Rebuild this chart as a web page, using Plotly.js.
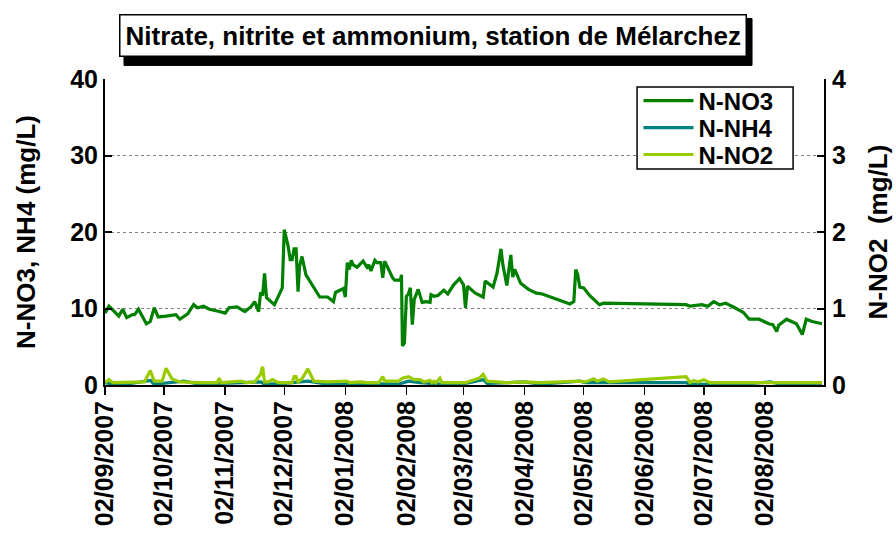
<!DOCTYPE html>
<html>
<head>
<meta charset="utf-8">
<script src="https://cdn.plot.ly/plotly-3.0.1.min.js"></script>
<style>html,body{margin:0;padding:0;background:#fff;}#chart{width:896px;height:535px;}</style>
</head>
<body>
<div id="chart"></div>
<script>
const no3Dates = ['2007-09-02','2007-09-04','2007-09-09','2007-09-11','2007-09-13','2007-09-16','2007-09-17','2007-09-19','2007-09-23','2007-09-25','2007-09-27','2007-09-29',
'2007-10-03','2007-10-08','2007-10-10','2007-10-14','2007-10-17','2007-10-19','2007-10-22','2007-10-25','2007-10-30',
'2007-11-02','2007-11-04','2007-11-08','2007-11-12','2007-11-15','2007-11-17','2007-11-19','2007-11-20','2007-11-21','2007-11-22','2007-11-23','2007-11-27',
'2007-12-01','2007-12-02','2007-12-04','2007-12-05','2007-12-06','2007-12-07','2007-12-08','2007-12-09','2007-12-09 18:00','2007-12-11','2007-12-13','2007-12-20','2007-12-24','2007-12-27','2007-12-28',
'2008-01-01','2008-01-02','2008-01-03','2008-01-04','2008-01-05','2008-01-06','2008-01-08','2008-01-11','2008-01-13','2008-01-14','2008-01-15','2008-01-17','2008-01-18','2008-01-20','2008-01-21','2008-01-22','2008-01-26','2008-01-27','2008-01-30','2008-01-30 12:00','2008-01-31',
'2008-02-01','2008-02-02','2008-02-03','2008-02-04','2008-02-05','2008-02-06','2008-02-08','2008-02-10','2008-02-12','2008-02-14','2008-02-14 12:00','2008-02-16','2008-02-18','2008-02-21','2008-02-23','2008-02-26','2008-02-29',
'2008-03-02','2008-03-03','2008-03-04','2008-03-08','2008-03-12','2008-03-13','2008-03-17','2008-03-19','2008-03-21','2008-03-22','2008-03-24','2008-03-25','2008-03-26','2008-03-27','2008-03-28','2008-03-31',
'2008-04-04','2008-04-08','2008-04-11','2008-04-25','2008-04-27','2008-04-28','2008-04-29','2008-04-30',
'2008-05-02','2008-05-05','2008-05-07','2008-05-10','2008-05-12',
'2008-06-23','2008-06-25','2008-06-29',
'2008-07-01','2008-07-04','2008-07-07','2008-07-10','2008-07-13','2008-07-17','2008-07-22','2008-07-25','2008-07-30',
'2008-08-04','2008-08-06','2008-08-08','2008-08-09','2008-08-13','2008-08-18','2008-08-21','2008-08-23','2008-08-26','2008-08-31'];
const no3Values = [9.4,10.3,9.0,9.9,8.8,9.2,9.2,9.9,8.0,8.3,10.1,8.9,
9.0,9.2,8.6,9.3,10.5,10.1,10.3,9.9,9.6,
9.4,10.1,10.2,9.6,10.2,10.9,9.6,12.1,11.7,14.6,11.4,10.5,
12.7,20.3,18.1,16.4,16.4,17.8,17.8,12.2,15.5,16.8,14.4,11.5,11.5,10.9,12.1,
12.6,11.5,16.0,15.1,16.3,15.7,15.4,16.2,15.4,15.7,14.9,16.3,16.0,16.0,14.0,16.2,14.0,13.7,13.7,14.4,5.1,
5.5,11.6,11.9,12.7,7.9,11.2,12.5,10.8,10.9,10.8,11.8,11.6,11.7,12.4,11.9,13.1,13.9,
13.1,10.1,12.9,12.0,11.5,13.6,12.8,14.6,17.8,15.7,13.0,14.9,17.0,14.1,15.1,13.3,
12.5,12.0,11.9,10.6,10.9,15.1,14.4,12.8,
12.7,11.7,11.2,10.5,10.7,
10.5,10.3,10.5,
10.5,10.3,10.9,10.5,10.7,10.2,9.5,8.6,8.6,
8.0,7.9,7.0,7.8,8.6,8.0,6.6,8.6,8.3,8.0];

const nh4Dates = ['2007-09-02','2007-09-06','2007-09-15','2007-09-25','2007-09-27','2007-10-06','2007-10-12','2007-10-20','2007-11-10','2007-11-20','2007-11-22','2007-12-02','2007-12-14','2007-12-24',
'2008-01-13','2008-01-29','2008-02-03','2008-02-09','2008-02-20','2008-03-03','2008-03-12','2008-03-14','2008-04-02','2008-04-10','2008-04-30','2008-05-03','2008-06-23','2008-06-25','2008-07-22','2008-08-05','2008-08-10','2008-08-31'];
const nh4Values = [0.3,0.1,0.2,0.6,0.1,0.3,0.5,0.1,0.3,0.4,0.1,0.2,0.5,0.1,
0.2,0.1,0.5,0.3,0.1,0.2,0.7,0.2,0.4,0.1,0.5,0.3,0.3,0.1,0.1,0.4,0.1,0.1];

const no2Dates = ['2007-09-02','2007-09-04','2007-09-06','2007-09-15','2007-09-20','2007-09-22','2007-09-25','2007-09-27','2007-10-01','2007-10-03','2007-10-06','2007-10-10','2007-10-20','2007-10-29','2007-10-30','2007-10-31',
'2007-11-10','2007-11-13','2007-11-17','2007-11-20','2007-11-21','2007-11-22','2007-11-24','2007-11-26','2007-11-29','2007-12-06','2007-12-07','2007-12-08','2007-12-09','2007-12-11','2007-12-14','2007-12-17','2007-12-24',
'2008-01-03','2008-01-04','2008-01-10','2008-01-13','2008-01-19','2008-01-21','2008-01-22','2008-01-29','2008-01-31','2008-02-03','2008-02-06','2008-02-09','2008-02-11','2008-02-14','2008-02-15','2008-02-16','2008-02-17','2008-02-19','2008-02-20',
'2008-03-03','2008-03-07','2008-03-10','2008-03-12','2008-03-14','2008-03-24','2008-04-02','2008-04-10','2008-04-30','2008-05-03','2008-05-07','2008-05-09','2008-05-12','2008-05-15',
'2008-06-23','2008-06-25','2008-06-27','2008-06-29','2008-07-02','2008-07-05','2008-07-22','2008-08-08','2008-08-31'];
const no2Values = [0.03,0.07,0.03,0.04,0.04,0.04,0.19,0.05,0.05,0.22,0.08,0.04,0.03,0.03,0.09,0.03,
0.05,0.03,0.04,0.14,0.24,0.04,0.04,0.07,0.03,0.03,0.11,0.11,0.04,0.08,0.21,0.05,0.04,
0.05,0.03,0.04,0.03,0.03,0.11,0.05,0.05,0.09,0.11,0.07,0.07,0.04,0.06,0.03,0.05,0.03,0.09,0.03,
0.03,0.06,0.09,0.14,0.05,0.03,0.04,0.03,0.05,0.04,0.08,0.05,0.08,0.04,
0.11,0.03,0.06,0.04,0.07,0.03,0.03,0.03,0.03];

const tickDates = ['2007-09-02','2007-10-02','2007-11-02','2007-12-02','2008-01-02','2008-02-02','2008-03-02','2008-04-02','2008-05-02','2008-06-02','2008-07-02','2008-08-02'];
const tickLabels = ['02/09/2007','02/10/2007','02/11/2007','02/12/2007','02/01/2008','02/02/2008','02/03/2008','02/04/2008','02/05/2008','02/06/2008','02/07/2008','02/08/2008'];
const chartTitle = 'Nitrate, nitrite et ammonium, station de Mélarchez';

const FONT = 'Liberation Sans, Arial, sans-serif';
const bold = (size, color) => ({family: FONT, size: size, color: color || '#000', weight: 700});

const traces = [
  {x: no3Dates, y: no3Values, name: 'N-NO3', type: 'scatter', mode: 'lines', line: {color: '#008000', width: 3.2}, yaxis: 'y', legend: 'legend'},
  {x: nh4Dates, y: nh4Values, name: 'N-NH4', type: 'scatter', mode: 'lines', line: {color: '#008080', width: 3.2}, yaxis: 'y', legend: 'legend2'},
  {x: no2Dates, y: no2Values, name: 'N-NO2', type: 'scatter', mode: 'lines', line: {color: '#99CC00', width: 3.2}, yaxis: 'y2', legend: 'legend3'}
];

const legendBase = (yc) => ({x: 0.742, y: yc, xanchor: 'left', yanchor: 'middle', bgcolor: 'rgba(0,0,0,0)', borderwidth: 0,
  font: bold(24), itemwidth: 50});

const layout = {
  width: 896, height: 535,
  margin: {l: 105, r: 72, t: 79, b: 150, pad: 0},
  paper_bgcolor: '#fff', plot_bgcolor: '#fff',
  font: bold(25),
  showlegend: true,
  legend: legendBase(0.928),
  legend2: legendBase(0.840),
  legend3: legendBase(0.752),
  xaxis: {type: 'date', range: ['2007-09-02', '2008-09-01'], tickmode: 'array', tickvals: tickDates, ticktext: tickLabels,
          tickangle: -90, ticks: 'outside', ticklen: 8, tickwidth: 1.5, tickcolor: '#000', showline: true, linecolor: '#000', linewidth: 2,
          showgrid: false, zeroline: false, tickfont: bold(25), automargin: false, ticklabelstandoff: -4},
  yaxis: {range: [0, 40], tickvals: [0, 10, 20, 30, 40], ticks: 'inside', ticklen: 7, tickwidth: 2, tickcolor: '#000',
          showline: true, linecolor: '#000', linewidth: 2, showgrid: true, gridcolor: '#808080', gridwidth: 1, griddash: 'dot',
          zeroline: false, tickfont: bold(25), automargin: false,
          title: {text: 'N-NO3, NH4 (mg/L)', font: bold(26), standoff: 27}},
  yaxis2: {range: [0, 4], tickvals: [0, 1, 2, 3, 4], overlaying: 'y', side: 'right', ticks: 'inside', ticklen: 7, tickwidth: 2, tickcolor: '#000',
           showline: true, linecolor: '#000', linewidth: 2, showgrid: false, zeroline: false, tickfont: bold(25), automargin: false,
           ticklabelstandoff: 1,
           title: {text: 'N-NO2  (mg/L)', font: bold(26), standoff: 24}},
  shapes: [
    {type: 'rect', xref: 'paper', yref: 'paper', x0: 0.0264, x1: 0.8999, y0: 1.0444, y1: 1.1978,
     fillcolor: '#000', line: {color: '#000', width: 1}, layer: 'above'},
    {type: 'rect', xref: 'paper', yref: 'paper', x0: 0.740, x1: 0.957, y0: 0.706, y1: 0.974,
     fillcolor: '#fff', line: {color: '#000', width: 1.5}, layer: 'above'}
  ],
  annotations: [
    {text: chartTitle, xref: 'paper', yref: 'paper', x: 0.456, y: 1.1436, xanchor: 'center', yanchor: 'middle', showarrow: false,
     font: bold(26, '#000'), bgcolor: '#fff', bordercolor: '#000', borderwidth: 1.5, borderpad: 5}
  ]
};

Plotly.newPlot('chart', traces, layout, {displayModeBar: false, staticPlot: true});
</script>
</body>
</html>
